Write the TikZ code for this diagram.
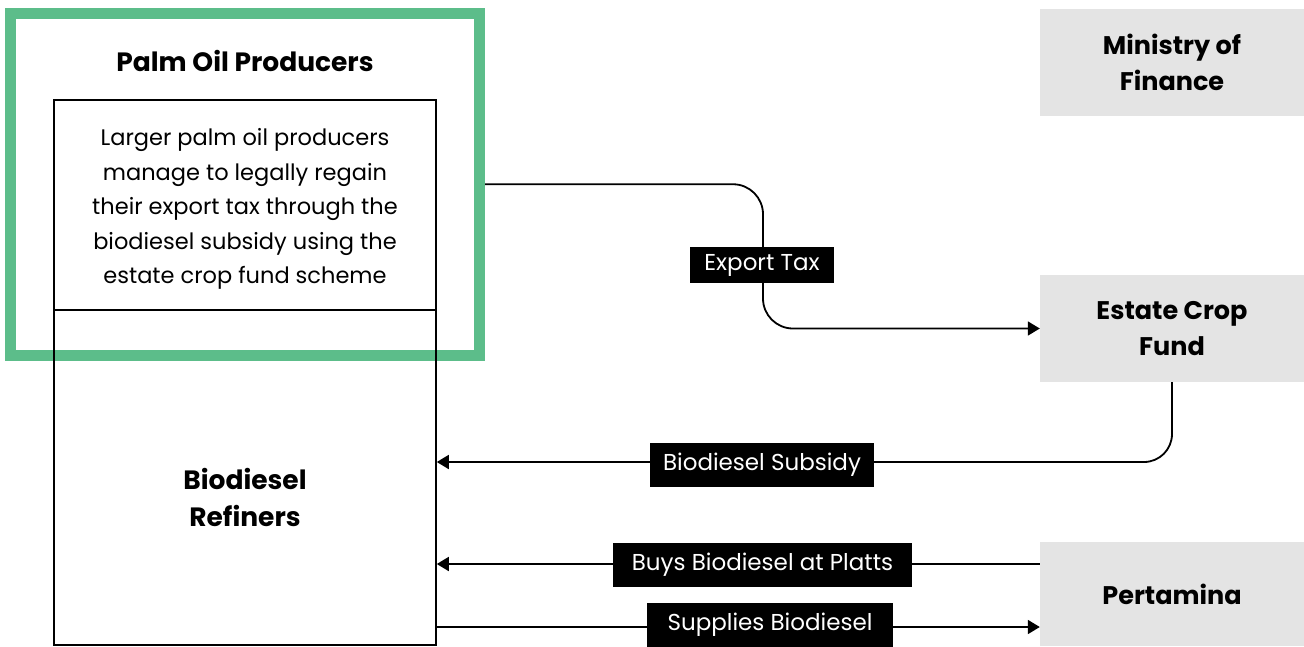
\documentclass[tikz,border=0pt]{standalone}
\usepackage{fontspec}
\setmainfont{Poppins}
\usetikzlibrary{arrows.meta}
\definecolor{frgreen}{HTML}{5CBD8A}
\definecolor{boxgray}{HTML}{E4E4E4}
\tikzset{
  frame/.style={draw=frgreen, line width=11pt, minimum width=469pt, minimum height=341.5pt, inner sep=0pt},
  plainbox/.style={draw=black, line width=1.6pt, minimum width=382pt, inner sep=0pt},
  graybox/.style={fill=boxgray, minimum width=264pt, inner sep=0pt, align=center,
    font=\fontsize{25.5}{36}\selectfont\bfseries},
  conn/.style={draw=black, line width=1.8pt, -{Triangle[length=12pt,width=14pt]}},
  lbl/.style={fill=black, text=white, inner sep=0pt, minimum height=40pt,
    font=\fontsize{23}{26}\selectfont},
  title/.style={font=\fontsize{26.5}{37}\selectfont\bfseries, align=center, inner sep=0pt}
}
\begin{document}
\begin{tikzpicture}[x=1pt,y=-1pt]
\useasboundingbox (0,0) rectangle (1304,646);
% green frame
\node[frame] (palm) at (245,184.25) {};
\node[title] (palmt) at (245,61) {Palm Oil Producers};
% boxes
\node[plainbox, minimum height=210pt] (desc) at (245,205) {};
\node[align=center, inner sep=0pt, font=\fontsize{22.5}{34.5}\selectfont] (desct) at (245,209)
  {Larger palm oil producers\\manage to legally regain\\their export tax through the\\biodiesel subsidy using the\\estate crop fund scheme};
\node[plainbox, minimum height=335pt] (ref) at (245,477.5) {};
\node[title] (reft) at (245,497) {Biodiesel\\Refiners};
% gray boxes
\node[graybox, minimum height=107pt] (mof) at (1172,62.5) {Ministry of\\Finance};
\node[graybox, minimum height=107pt] (ecf) at (1172,328.5) {Estate Crop\\Fund};
\node[graybox, minimum height=104pt] (pert) at (1172,594) {Pertamina};
% label anchors
\coordinate (subc) at (762,462);
\coordinate (buyc) at (762,564);
\coordinate (supc) at (770,627);
% connectors
\draw[conn, rounded corners=30pt] (palm.east) -- (763,184.25) |- (ecf.west);
\draw[conn, rounded corners=28pt] (ecf.south) |- (ref.east |- subc);
\draw[conn] (pert.west |- buyc) -- (ref.east |- buyc);
\draw[conn] (ref.east |- supc) -- (pert.west |- supc);
% labels
\node[lbl, minimum width=144pt, minimum height=36pt] (extax) at (762,265) {Export Tax};
\node[lbl, minimum width=224pt, minimum height=44pt] (sub) at (762,465) {Biodiesel Subsidy};
\node[lbl, minimum width=299pt, minimum height=44pt] (buy) at (762.5,565) {Buys Biodiesel at Platts};
\node[lbl, minimum width=246pt, minimum height=44pt] (sup) at (770,625) {Supplies Biodiesel};
\end{tikzpicture}
\end{document}
